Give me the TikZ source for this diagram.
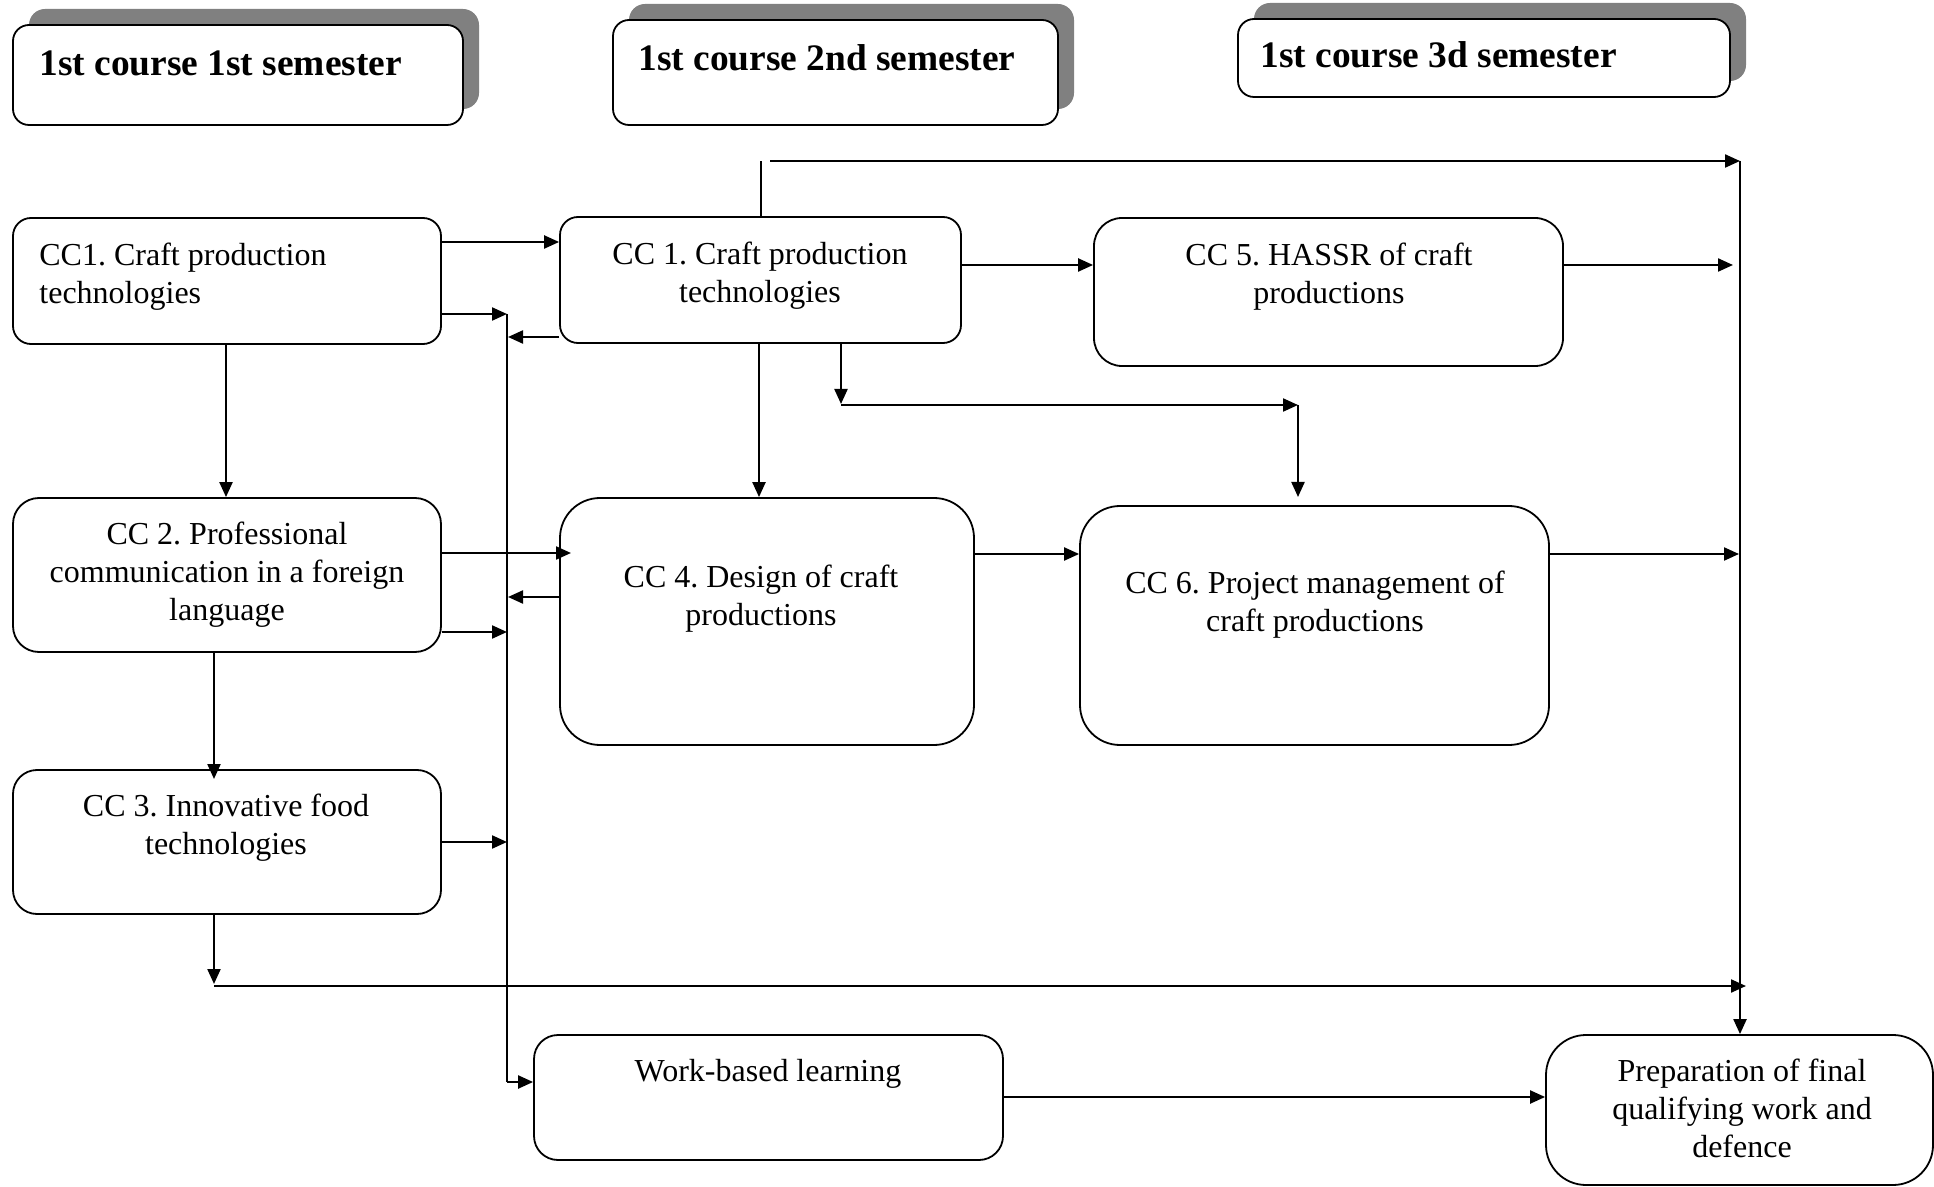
\documentclass[tikz,border=0pt]{standalone}
\usepackage{fontspec}
\setmainfont{Liberation Serif}
\usetikzlibrary{arrows.meta}
\frenchspacing
\begin{document}
\begin{tikzpicture}[x=0.5pt,y=-0.5pt,
  box/.style={draw, line width=0.9pt, fill=white, inner sep=0pt, rounded corners=#1},
  box/.default=9pt,
  shadowbox/.style={fill=gray, inner sep=0pt, rounded corners=8pt},
  hdr/.style={font=\fontsize{18.7}{21}\selectfont\bfseries, anchor=base west, inner sep=0pt},
  lbl/.style={font=\fontsize{16}{19}\selectfont\frenchspacing, align=center, anchor=base, inner sep=0pt},
  arr/.style={-{Triangle[length=7.5pt,width=6.5pt]}, line width=1.1pt},
  ln/.style={line width=1.1pt}]
\useasboundingbox[fill=white] (0,0) rectangle (1934,1187);

% headers
\node[shadowbox, minimum width=225pt, minimum height=50pt] (H1s) at (254,59) {};
\node[box=8pt, minimum width=225pt, minimum height=50pt] (H1) at (238,75) {};
\node[hdr] (H1t) at (39,76) {1st course 1st semester};

\node[shadowbox, minimum width=222.5pt, minimum height=52.5pt] (H2s) at (851.5,56.5) {};
\node[box=8pt, minimum width=222.5pt, minimum height=52.5pt] (H2) at (835.5,72.5) {};
\node[hdr] (H2t) at (638,71) {1st course 2nd semester};

\node[shadowbox, minimum width=246pt, minimum height=39pt] (H3s) at (1500,42) {};
\node[box=8pt, minimum width=246pt, minimum height=39pt] (H3) at (1484,58) {};
\node[hdr] (H3t) at (1260,68) {1st course 3d semester};

% boxes (text anchors are at the baseline of the last line)
\node[box=9pt, minimum width=214pt, minimum height=63pt] (A1) at (227,281) {};
\node[lbl, align=left, anchor=base west] (A1t) at (39,304) {CC1. Craft production\\technologies};

\node[box=9pt, minimum width=200.5pt, minimum height=63pt] (B1) at (760.5,280) {};
\node[lbl] (B1t) at (760,303) {CC 1. Craft production\\technologies};

\node[box=14pt, minimum width=234.5pt, minimum height=74pt] (C5) at (1328.5,292) {};
\node[lbl] (C5t) at (1329,304) {CC 5. HASSR of craft\\productions};

\node[box=13pt, minimum width=214pt, minimum height=77pt] (A2) at (227,575) {};
\node[lbl] (A2t) at (227,620) {CC 2. Professional\\communication in a foreign\\language};

\node[box=20pt, minimum width=207pt, minimum height=123.5pt] (B4) at (767,621.5) {};
\node[lbl] (B4t) at (761,625) {CC 4. Design of craft\\productions};

\node[box=20pt, minimum width=234.5pt, minimum height=119.5pt] (C6) at (1314.5,625.5) {};
\node[lbl] (C6t) at (1315,632) {CC 6. Project management of\\craft productions};

\node[box=12pt, minimum width=214pt, minimum height=72pt] (A3) at (227,842) {};
\node[lbl] (A3t) at (226,854) {CC 3. Innovative food\\technologies};

\node[box=12pt, minimum width=234.5pt, minimum height=62.5pt] (W) at (768.5,1097.5) {};
\node[lbl] (Wt) at (768,1081) {Work-based learning};

\node[box=20pt, minimum width=193.5pt, minimum height=75pt] (P) at (1739.5,1110) {};
\node[lbl] (Pt) at (1742,1157) {Preparation of final\\qualifying work and\\defence};

% coordinates
\coordinate (t1) at (761,161);
\coordinate (t2) at (770,161);
\coordinate (TR) at (1740,161);
\coordinate (r5) at (1733,265);
\coordinate (r6) at (1739,554);
\coordinate (d1) at (841,404);
\coordinate (h1) at (841,405);
\coordinate (h2) at (1298,405);
\coordinate (d2) at (1298,497);
\coordinate (v1) at (759,0);
\coordinate (v2) at (226,0);
\coordinate (y242) at (0,242);
\coordinate (b1) at (507,314);
\coordinate (b2) at (508,337);
\coordinate (b3) at (508,597);
\coordinate (b4) at (507,632);
\coordinate (b5) at (507,842);
\coordinate (bB) at (507,1082);
\coordinate (c4) at (571,553);
\coordinate (a2t) at (214,779);
\coordinate (a3d) at (214,984);
\coordinate (h3) at (214,986);
\coordinate (h4) at (1746,986);
\coordinate (y1097) at (0,1097);

% connectors
\draw[ln] (B1.north -| t1) -- (t1);
\draw[arr] (t2) -- (TR);
\draw[arr] (TR) -- (P.north -| TR);
\draw[arr] (C5.east |- r5) -- (r5);
\draw[arr] (C6.east |- r6) -- (r6);
\draw[arr] (B1.east |- r5) -- (C5.west |- r5);
\draw[arr] (B1.south -| d1) -- (d1);
\draw[arr] (h1) -- (h2);
\draw[arr] (h2) -- (d2);
\draw[arr] (B1.south -| v1) -- (B4.north -| v1);
\draw[arr] (A1.east |- y242) -- (B1.west |- y242);
\draw[arr] (A1.east |- b1) -- (b1);
\draw[arr] (B1.west |- b2) -- (b2);
\draw[arr] (A2.east |- c4) -- (c4);
\draw[arr] (B4.west |- b3) -- (b3);
\draw[arr] (A2.east |- b4) -- (b4);
\draw[arr] (A3.east |- b5) -- (b5);
\draw[ln] (b1) -- (bB);
\draw[arr] (bB) -- (W.west |- bB);
\draw[arr] (A1.south -| v2) -- (A2.north -| v2);
\draw[arr] (A2.south -| a2t) -- (a2t);
\draw[arr] (A3.south -| h3) -- (a3d);
\draw[arr] (h3) -- (h4);
\draw[arr] (W.east |- y1097) -- (P.west |- y1097);
\draw[arr] (B4.east |- r6) -- (C6.west |- r6);
\end{tikzpicture}
\end{document}
